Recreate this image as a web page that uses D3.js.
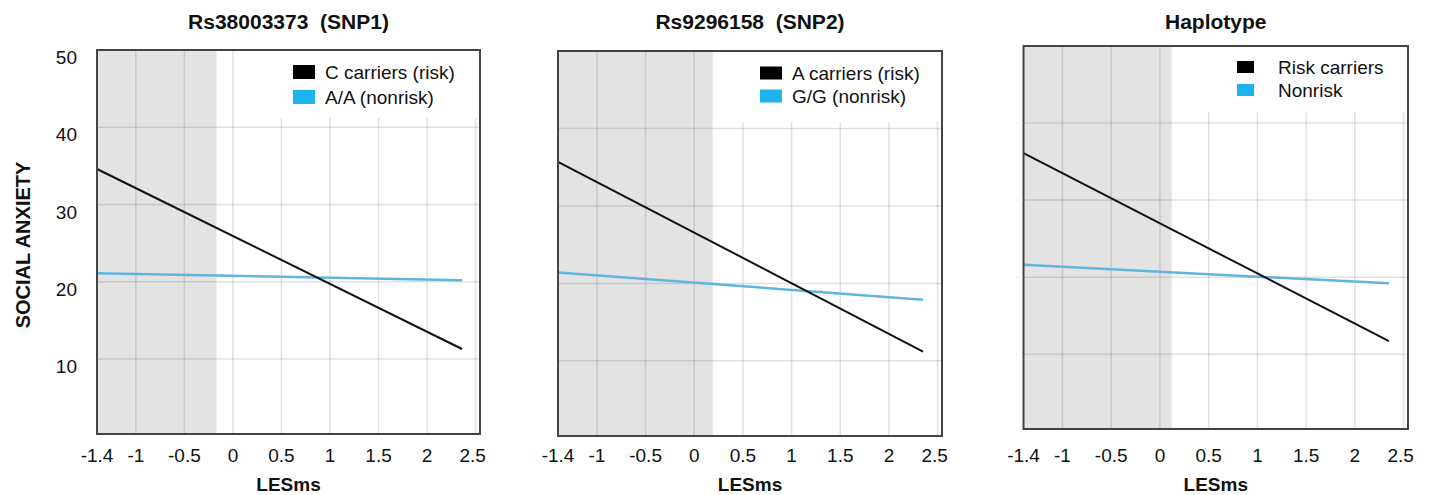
<!DOCTYPE html>
<html>
<head>
<meta charset="utf-8">
<script src="https://cdn.jsdelivr.net/npm/d3@7"></script>
<style>
  body { margin: 0; background: #fff; }
  svg { display: block; font-family: "Liberation Sans", Arial, sans-serif; }
  text { white-space: pre; }
</style>
</head>
<body>
<svg id="chart" width="1436" height="495"></svg>
<script>
// data
const titles = ["Rs38003373  (SNP1)", "Rs9296158  (SNP2)", "Haplotype"];
const riskLabels = ["C carriers (risk)", "A carriers (risk)", "Risk carriers"];
const nonriskLabels = ["A/A (nonrisk)", "G/G (nonrisk)", "Nonrisk"];
const xTicks = [-1.4, -1, -0.5, 0, 0.5, 1, 1.5, 2, 2.5];
const xGrid = [-1, -0.5, 0, 0.5, 1, 1.5, 2, 2.5];
const yTicks = [10, 20, 30, 40, 50];
const lineX = [[-1.4, 2.36], [-1.4, 2.35], [-1.4, 2.35]];
const riskY = [[34.6, 11.3], [35.7, 11.2], [36.1, 11.7]];
const nonriskY = [[21.1, 20.2], [21.4, 17.9], [21.6, 19.2]];
const shadeEnd = [-0.17, 0.19, 0.12];

// layout of each panel (pixels)
const panels = [
  { left: 97, right: 480, top: 50, bottom: 434, yLabels: true, legendLeft: 240, legendBottom: 118, sq: [22, 14], sqX: 293, txtX: 325, rowY: [72, 97] },
  { left: 558, right: 942, top: 51, bottom: 436, yLabels: false, legendLeft: 720, legendBottom: 122, sq: [22, 13], sqX: 760, txtX: 792, rowY: [73, 96] },
  { left: 1023.5, right: 1408, top: 46, bottom: 429, yLabels: false, legendLeft: 1180, legendBottom: 112, sq: [17, 12], sqX: 1237, txtX: 1278, rowY: [67, 90] }
];

const svg = d3.select("#chart");
const blueLine = "#62b4df";
const blueKey = "#1db3ef";

panels.forEach((p, i) => {
  const x = d3.scaleLinear().domain([-1.4, 2.545]).range([p.left, p.right]);
  const y = d3.scaleLinear().domain([0.3, 50]).range([p.bottom, p.top]);
  const g = svg.append("g");

  // shaded region
  g.append("rect")
    .attr("x", x(-1.4)).attr("y", p.top)
    .attr("width", x(shadeEnd[i]) - x(-1.4))
    .attr("height", p.bottom - p.top)
    .attr("fill", "#e3e3e3");

  // grid
  g.append("g").selectAll("line").data(xGrid).join("line")
    .attr("x1", d => x(d)).attr("x2", d => x(d))
    .attr("y1", p.top).attr("y2", p.bottom)
    .attr("stroke", "rgba(0,0,0,0.12)").attr("stroke-width", 1.5);
  g.append("g").selectAll("line").data(yTicks.slice(0, 4)).join("line")
    .attr("x1", p.left).attr("x2", p.right)
    .attr("y1", d => y(d)).attr("y2", d => y(d))
    .attr("stroke", "rgba(0,0,0,0.12)").attr("stroke-width", 1.5);

  // legend background
  g.append("rect")
    .attr("x", p.legendLeft).attr("y", p.top)
    .attr("width", p.right - p.legendLeft)
    .attr("height", p.legendBottom - p.top)
    .attr("fill", "#fff");

  // regression lines
  const line = d3.line().x(d => x(d[0])).y(d => y(d[1]));
  g.append("path")
    .attr("d", line(lineX[i].map((v, k) => [v, nonriskY[i][k]])))
    .attr("stroke", blueLine).attr("stroke-width", 2.5).attr("fill", "none");
  g.append("path")
    .attr("d", line(lineX[i].map((v, k) => [v, riskY[i][k]])))
    .attr("stroke", "#111").attr("stroke-width", 2).attr("fill", "none");

  // frame
  g.append("rect")
    .attr("x", p.left).attr("y", p.top)
    .attr("width", p.right - p.left).attr("height", p.bottom - p.top)
    .attr("fill", "none").attr("stroke", "#444").attr("stroke-width", 2);

  // x axis labels
  g.append("g").selectAll("text").data(xTicks).join("text")
    .attr("x", d => x(d) - (d === 2.5 ? 3 : 0)).attr("y", 462)
    .attr("text-anchor", "middle")
    .attr("font-size", 19).attr("fill", "#111")
    .text(d => d);

  g.append("text")
    .attr("x", (p.left + p.right) / 2).attr("y", 491)
    .attr("text-anchor", "middle")
    .attr("font-size", 19).attr("font-weight", "bold").attr("fill", "#111")
    .text("LESms");

  // title
  g.append("text")
    .attr("x", (p.left + p.right) / 2).attr("y", 29)
    .attr("text-anchor", "middle")
    .attr("font-size", 21).attr("font-weight", "bold").attr("fill", "#111")
    .text(titles[i]);

  // y axis labels
  if (p.yLabels) {
    g.append("g").selectAll("text").data(yTicks).join("text")
      .attr("x", p.left - 20).attr("y", d => y(d) + 14)
      .attr("text-anchor", "end")
      .attr("font-size", 19).attr("fill", "#111")
      .text(d => d);
  }
  if (i === 2) {
    g.append("g").selectAll("line").data(yTicks.slice(0, 4)).join("line")
      .attr("x1", p.left - 8).attr("x2", p.left - 6)
      .attr("y1", d => y(d)).attr("y2", d => y(d))
      .attr("stroke", "#e6e6e6").attr("stroke-width", 1.5);
  }

  // legend
  [[riskLabels[i], "#000"], [nonriskLabels[i], blueKey]].forEach((item, k) => {
    g.append("rect")
      .attr("x", p.sqX).attr("y", p.rowY[k] - p.sq[1] / 2)
      .attr("width", p.sq[0]).attr("height", p.sq[1])
      .attr("fill", item[1]);
    g.append("text")
      .attr("x", p.txtX).attr("y", p.rowY[k] + 7)
      .attr("font-size", 19).attr("fill", "#111")
      .text(item[0]);
  });
});

svg.append("text")
  .attr("transform", "translate(30,245) rotate(-90)")
  .attr("text-anchor", "middle")
  .attr("font-size", 20).attr("font-weight", "bold").attr("fill", "#111")
  .text("SOCIAL ANXIETY");
</script>
</body>
</html>
